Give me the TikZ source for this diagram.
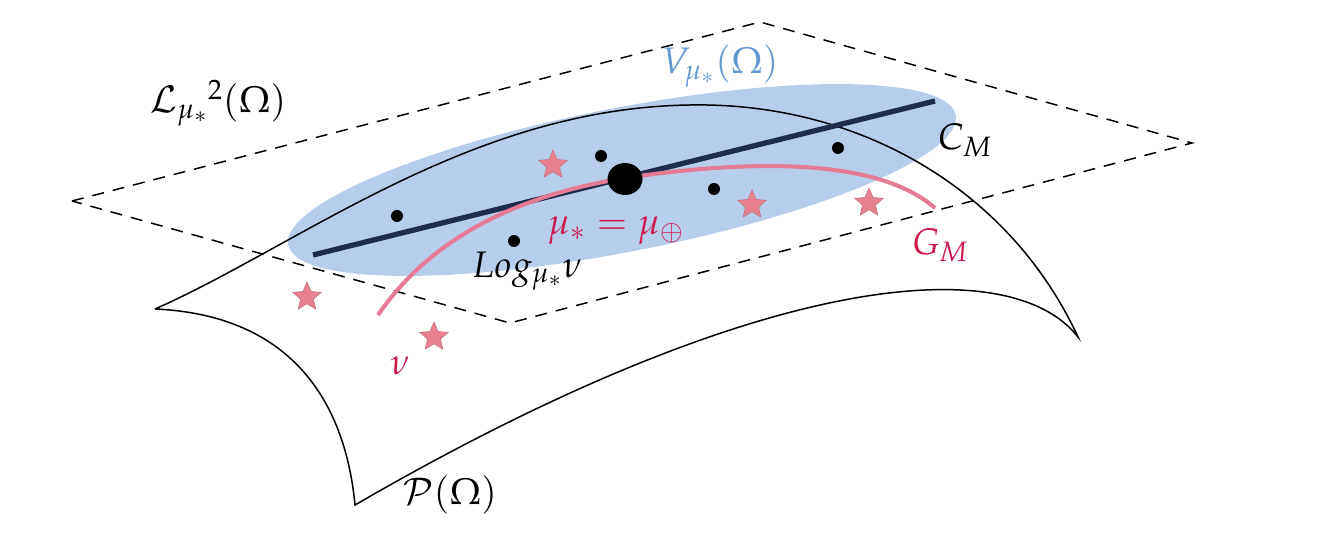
\documentclass[tikz,border=0pt]{standalone}
\usepackage{mathpazo}
\usetikzlibrary{shapes.geometric}
\definecolor{ellblue}{RGB}{183,206,235}
\definecolor{vblue}{RGB}{100,152,210}
\definecolor{navy}{RGB}{30,45,75}
\definecolor{crim}{RGB}{205,25,75}
\definecolor{pinkline}{RGB}{228,122,148}
\definecolor{starpink}{RGB}{232,128,143}
\tikzset{
  dashedge/.style={draw=black, line width=0.85pt, dash pattern=on 0.24cm off 0.18cm},
  surf/.style={draw=black, line width=0.85pt},
  dot/.style={circle, fill=black, inner sep=0pt, minimum size=0.24cm},
  bigdot/.style={ellipse, fill=black, inner sep=0pt, minimum width=0.7cm, minimum height=0.64cm},
  pstar/.style={star, star points=5, star point ratio=2.2, fill=starpink, draw=starpink!85!black, line width=0.3pt, inner sep=0pt, minimum size=0.6cm},
  lbl/.style={inner sep=0pt, anchor=center}
}
\begin{document}
\begin{tikzpicture}[x=0.02cm,y=-0.02cm, font=\fontsize{21}{25}\selectfont]
\useasboundingbox (0,0) rectangle (1323,543);
% ellipse V
\fill[ellblue, rotate around={11:(622,180)}] (622,180) ellipse [x radius=340, y radius=72];
% plane (dashed)
\coordinate (pl) at (72,201);
\coordinate (pt) at (760,22);
\coordinate (pr) at (1192,143);
\coordinate (pb) at (510,323);
\draw[dashedge] (pl) -- (pt) -- (pr) -- (pb) -- cycle;
% surface P(Omega)
\coordinate (sl) at (155,309);
\coordinate (sr) at (1078,337);
\coordinate (sb) at (355,505);
\draw[surf] (sl) .. controls (300,245) and (470,108) .. (690,105)
  .. controls (860,102) and (1010,190) .. (sr)
  .. controls (1010,250) and (760,270) .. (sb)
  .. controls (345,400) and (290,315) .. (sl);
% thick line C_M
\coordinate (ca) at (313,255);
\coordinate (cb) at (935,101);
\draw[navy, line width=3pt] (ca) -- (cb);
% pink curve G_M
\coordinate (ga) at (378,315);
\coordinate (gm) at (625,178);
\coordinate (gb) at (935,208);
\draw[pinkline, line width=2.3pt] (ga) .. controls (440,225) and (540,192) .. (gm)
  .. controls (760,158) and (880,160) .. (gb);
% dots
\node[dot] (d1) at (397,216) {};
\node[dot] (d2) at (601,156) {};
\node[dot] (d3) at (514,241) {};
\node[dot] (d4) at (714,189) {};
\node[dot] (d5) at (838,148) {};
\node[bigdot] (mu) at (625,179) {};
% stars
\node[pstar] (s1) at (553,165) {};
\node[pstar] (s2) at (752,205) {};
\node[pstar] (s3) at (869,203) {};
\node[pstar] (s4) at (307,297) {};
\node[pstar] (s5) at (434,337) {};
% labels
\node[lbl] (lL) at (218,103) {$\mathcal{L}_{\mu_*}{}^{2}(\Omega)$};
\node[lbl, text=vblue] (lV) at (720,66) {$V_{\mu_*}(\Omega)$};
\node[lbl] (lC) at (965,140) {$C_M$};
\node[lbl, text=crim] (lmu) at (616,231) {$\mu_* = \mu_\oplus$};
\node[lbl, text=crim] (lG) at (940,245) {$G_M$};
\node[lbl] (lLog) at (527,271) {$Log_{\mu_*}\nu$};
\node[lbl, text=crim] (lnu) at (400,366) {$\nu$};
\node[lbl] (lP) at (450,495) {$\mathcal{P}(\Omega)$};
\end{tikzpicture}
\end{document}
